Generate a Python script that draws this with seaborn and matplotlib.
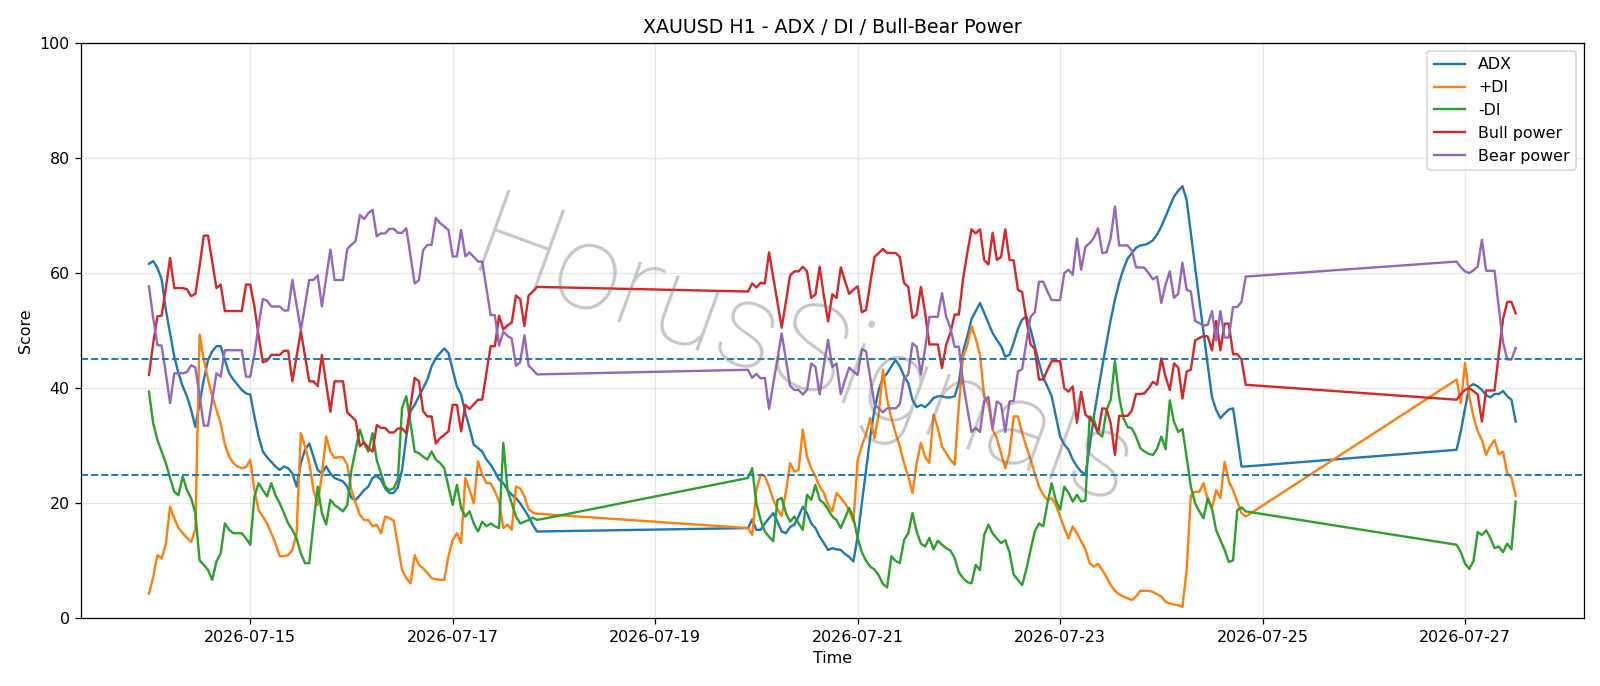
import matplotlib
matplotlib.use("Agg")
import matplotlib.dates as mdates
import matplotlib.pyplot as plt
import pandas as pd
import seaborn as sns

# hourly bars, three trading blocks (weekend gaps are bridged by the line)
SESSIONS = [("2026-07-14 00:00", "2026-07-17 20:00"),
            ("2026-07-19 22:00", "2026-07-24 20:00"),
            ("2026-07-26 22:00", "2026-07-27 12:00")]

adx = [
    # block 1
    61.6, 62.1, 60.9, 58.9, 53.6, 49.6, 45.5, 42.6, 40.3, 38.6,
    36.2, 33.3, 37.4, 41.5, 44.9, 46.4, 47.3, 47.3, 44.9, 42.6,
    41.5, 40.6, 39.7, 39.1, 38.9, 35.1, 31.6, 29.0, 28.0, 27.2,
    26.4, 25.8, 26.4, 26.1, 25.2, 22.9, 27.0, 29.3, 30.4, 28.1,
    25.8, 25.2, 26.4, 25.2, 24.4, 24.1, 23.8, 22.9, 20.9, 20.6,
    21.4, 22.3, 22.9, 24.4, 24.8, 24.1, 22.6, 21.8, 21.8, 22.8,
    25.8, 31.6, 36.0, 37.1, 38.6, 40.0, 41.5, 43.8, 45.2, 46.1,
    46.9, 46.1, 43.2, 40.3, 38.9, 35.7, 33.1, 30.2, 29.6, 29.0,
    27.6, 26.7, 25.5, 24.1, 23.5, 22.3, 21.5, 20.9, 20.0, 18.9,
    17.7, 16.2, 15.1,
    # block 2
    15.7, 17.2, 15.4, 15.4, 16.5, 17.4, 18.3, 16.8, 15.1, 14.8,
    15.9, 16.3, 17.7, 19.4, 18.3, 16.5, 15.7, 14.2, 13.1, 11.9,
    12.2, 12.0, 11.9, 11.2, 10.7, 9.9, 14.2, 20.0, 25.8, 31.6,
    36.3, 39.7, 41.8, 42.6, 43.8, 44.9, 43.8, 42.1, 40.9, 38.0,
    36.7, 37.1, 36.7, 37.4, 38.3, 38.6, 38.6, 38.4, 38.4, 38.6,
    40.9, 46.4, 49.0, 52.0, 53.4, 54.8, 53.1, 51.3, 49.6, 48.4,
    47.3, 45.5, 45.8, 47.9, 50.3, 51.9, 52.5, 50.2, 47.3, 44.4,
    41.8, 40.3, 38.6, 35.1, 31.6, 30.2, 29.3, 27.6, 26.4, 25.5,
    25.0, 29.8, 35.1, 39.4, 43.8, 47.8, 51.9, 55.4, 58.3, 60.7,
    62.5, 63.5, 64.4, 64.8, 64.9, 65.2, 65.7, 66.7, 68.1, 69.8,
    71.6, 73.3, 74.3, 75.1, 72.7, 66.9, 61.1, 55.3, 49.8, 44.0,
    38.5, 36.2, 34.8, 35.6, 36.3, 36.5, 31.6, 26.4, 26.4,
    # block 3
    29.3, 32.5, 36.5, 40.3, 40.7, 40.3, 39.7, 38.8, 38.4, 39.0,
    39.0, 39.5, 38.6, 38.0, 34.2,
]

plus_di = [
    # block 1
    4.3, 7.2, 11.0, 10.4, 13.0, 19.4, 17.4, 15.7, 14.8, 14.0,
    13.3, 15.5, 49.3, 45.0, 41.5, 38.6, 36.2, 33.9, 30.2, 28.1,
    27.0, 26.4, 26.1, 26.3, 27.5, 22.3, 18.8, 17.7, 16.5, 14.8,
    13.0, 10.8, 10.8, 11.0, 11.9, 14.8, 32.2, 29.9, 27.0, 22.3,
    19.7, 25.0, 31.6, 29.0, 27.9, 28.0, 28.0, 26.7, 22.3, 20.0,
    18.0, 17.1, 17.1, 16.0, 16.3, 14.8, 17.7, 17.4, 17.0, 12.8,
    8.4, 7.0, 6.1, 11.0, 9.3, 8.7, 7.9, 7.0, 6.8, 6.7,
    6.7, 10.8, 13.6, 14.8, 13.1, 24.4, 22.3, 20.0, 27.3, 25.0,
    23.5, 23.5, 22.1, 20.3, 15.7, 16.3, 15.4, 22.9, 22.6, 21.2,
    19.0, 18.4, 18.2,
    # block 2
    15.7, 14.5, 22.3, 25.0, 24.7, 22.9, 20.6, 19.0, 17.8, 22.0,
    27.0, 25.5, 25.8, 32.8, 28.1, 26.1, 24.7, 22.9, 21.8, 19.7,
    18.6, 21.8, 20.9, 20.0, 18.8, 16.8, 27.5, 30.0, 32.0, 34.8,
    31.3, 35.5, 43.2, 38.0, 34.8, 32.2, 29.9, 27.0, 24.7, 21.8,
    27.0, 30.5, 28.1, 27.0, 35.4, 33.1, 29.9, 28.7, 27.6, 26.7,
    37.0, 45.5, 47.5, 50.8, 48.6, 45.8, 38.6, 37.1, 32.8, 31.3,
    28.7, 26.1, 28.7, 35.1, 35.1, 32.2, 29.9, 27.6, 25.2, 22.9,
    21.5, 20.6, 20.9, 19.7, 17.7, 15.7, 13.9, 16.0, 14.8, 13.4,
    12.0, 9.6, 9.0, 9.5, 8.4, 7.2, 5.8, 4.8, 4.2, 3.8,
    3.5, 3.2, 3.8, 4.8, 4.8, 4.8, 4.6, 4.2, 3.8, 2.9,
    2.6, 2.4, 2.3, 2.0, 8.4, 21.4, 22.0, 22.0, 23.5, 20.6,
    19.1, 22.3, 20.9, 27.2, 23.8, 22.3, 20.3, 18.3, 17.7,
    # block 3
    41.5, 37.4, 44.4, 38.5, 35.0, 32.5, 31.0, 28.4, 30.0, 31.0,
    28.5, 29.0, 25.2, 24.5, 21.3,
]

minus_di = [
    # block 1
    39.4, 33.9, 31.0, 29.0, 27.0, 24.4, 22.0, 21.4, 24.7, 22.3,
    20.9, 18.3, 10.1, 9.3, 8.4, 6.7, 9.9, 11.3, 16.5, 15.4,
    14.8, 14.8, 14.8, 13.9, 12.8, 21.2, 23.5, 22.3, 21.2, 23.5,
    21.4, 20.0, 18.3, 16.5, 15.4, 13.9, 11.3, 9.6, 9.6, 16.5,
    22.9, 18.3, 16.3, 20.6, 19.7, 19.2, 18.6, 19.7, 25.8, 29.3,
    32.8, 30.4, 29.0, 32.2, 27.5, 25.2, 22.9, 22.3, 22.6, 24.1,
    36.6, 38.6, 33.9, 29.0, 28.7, 28.1, 27.6, 29.0, 27.6, 27.0,
    26.1, 22.9, 19.7, 23.2, 19.2, 17.7, 18.6, 16.5, 15.1, 16.8,
    16.0, 16.5, 16.0, 15.7, 30.5, 22.3, 20.0, 17.7, 16.5, 16.8,
    17.1, 17.5, 17.1,
    # block 2
    24.4, 26.1, 20.0, 17.1, 15.1, 14.2, 13.4, 20.6, 20.9, 18.3,
    16.8, 17.7, 16.5, 15.4, 21.5, 20.6, 23.2, 20.6, 20.0, 18.9,
    17.7, 17.1, 15.7, 17.4, 19.2, 17.5, 14.0, 11.5, 10.0, 9.0,
    8.5, 7.5, 6.0, 5.4, 10.8, 10.0, 9.6, 13.6, 14.8, 18.3,
    15.1, 13.0, 12.5, 14.0, 12.0, 13.5, 12.8, 12.2, 11.8, 10.5,
    8.0, 7.0, 6.3, 6.1, 9.3, 8.4, 14.5, 16.3, 14.8, 13.9,
    13.1, 13.6, 11.5, 7.6, 6.7, 5.8, 8.5, 11.9, 15.1, 16.5,
    16.0, 20.0, 23.5, 20.5, 18.9, 22.9, 21.8, 20.3, 21.5, 20.3,
    20.5, 35.1, 34.6, 32.2, 31.6, 36.2, 38.0, 44.7, 38.5, 34.8,
    33.3, 33.0, 31.6, 29.6, 29.0, 28.6, 28.4, 29.5, 31.6, 29.4,
    37.9, 34.2, 32.4, 32.9, 28.0, 22.9, 20.0, 18.6, 17.4, 20.9,
    19.1, 15.3, 13.6, 11.9, 9.8, 10.1, 18.8, 19.3, 18.6,
    # block 3
    12.8, 11.5, 9.5, 8.6, 10.0, 15.0, 14.5, 15.3, 14.0, 12.2,
    12.5, 11.5, 13.0, 12.0, 20.3,
]

bull_power = [
    # block 1
    42.3, 47.8, 52.5, 52.6, 57.4, 62.6, 57.4, 57.4, 57.4, 57.2,
    56.0, 56.4, 61.2, 66.5, 66.5, 61.9, 57.4, 58.0, 53.4, 53.4,
    53.4, 53.4, 53.4, 58.0, 58.0, 54.2, 49.0, 44.5, 44.8, 45.8,
    45.8, 45.8, 46.5, 46.5, 41.2, 45.5, 49.9, 45.5, 41.2, 41.2,
    40.4, 45.8, 40.9, 35.9, 41.2, 41.2, 41.2, 35.8, 35.1, 34.4,
    29.9, 30.6, 29.6, 29.0, 33.6, 33.1, 33.1, 32.3, 32.3, 33.0,
    33.0, 32.2, 37.0, 41.8, 41.2, 36.0, 35.1, 35.1, 30.4, 31.3,
    31.9, 32.5, 37.1, 37.1, 32.5, 37.1, 36.4, 37.2, 38.0, 38.0,
    42.6, 47.3, 47.3, 52.6, 50.2, 50.9, 51.4, 56.1, 55.5, 50.8,
    56.1, 56.8, 57.6,
    # block 2
    56.8, 58.2, 57.5, 58.3, 58.2, 63.6, 59.2, 54.8, 50.5, 55.1,
    59.6, 60.3, 60.3, 61.1, 60.3, 55.7, 56.3, 61.1, 56.0, 51.6,
    56.3, 55.7, 61.0, 58.6, 56.4, 57.1, 57.7, 53.2, 53.6, 58.3,
    62.8, 63.5, 64.2, 63.5, 63.5, 63.5, 62.8, 58.3, 57.6, 52.2,
    52.8, 57.6, 53.1, 47.6, 47.6, 47.6, 43.5, 47.6, 49.6, 52.8,
    52.8, 59.0, 63.5, 67.6, 66.9, 67.6, 62.3, 61.5, 67.0, 62.3,
    62.8, 67.6, 62.3, 62.2, 57.1, 56.7, 51.9, 47.6, 46.8, 41.5,
    41.5, 43.2, 44.7, 44.7, 44.7, 40.0, 39.4, 40.3, 34.0, 39.4,
    35.4, 34.8, 33.9, 32.2, 36.5, 36.4, 33.9, 28.4, 35.2, 35.2,
    35.2, 36.1, 39.0, 39.0, 39.1, 40.0, 41.1, 40.6, 45.2, 42.0,
    39.7, 44.3, 43.6, 38.2, 42.9, 43.2, 48.3, 48.7, 49.1, 49.0,
    46.6, 51.7, 46.6, 51.2, 51.2, 45.9, 45.9, 45.0, 40.6,
    # block 3
    38.0, 39.0, 39.7, 40.0, 39.5, 38.9, 34.2, 39.6, 39.6, 39.6,
    46.0, 52.0, 55.0, 55.0, 53.0,
]

bear_power = [
    # block 1
    57.7, 52.2, 47.5, 47.4, 42.6, 37.4, 42.6, 42.6, 42.6, 42.8,
    44.0, 43.6, 38.8, 33.5, 33.5, 38.1, 42.6, 42.0, 46.6, 46.6,
    46.6, 46.6, 46.6, 42.0, 42.0, 45.8, 51.0, 55.5, 55.2, 54.2,
    54.2, 54.2, 53.5, 53.5, 58.8, 54.5, 50.1, 54.5, 58.8, 58.8,
    59.6, 54.2, 59.1, 64.1, 58.8, 58.8, 58.8, 64.2, 64.9, 65.6,
    70.1, 69.4, 70.4, 71.0, 66.4, 66.9, 66.9, 67.7, 67.7, 67.0,
    67.0, 67.8, 63.0, 58.2, 58.8, 64.0, 64.9, 64.9, 69.6, 68.7,
    68.1, 67.5, 62.9, 62.9, 67.5, 62.9, 63.6, 62.8, 62.0, 62.0,
    57.4, 52.7, 52.7, 47.4, 49.8, 49.1, 48.6, 43.9, 44.5, 49.2,
    43.9, 43.2, 42.4,
    # block 2
    43.2, 41.8, 42.5, 41.7, 41.8, 36.4, 40.8, 45.2, 49.5, 44.9,
    40.4, 39.7, 39.7, 38.9, 39.7, 44.3, 43.7, 38.9, 44.0, 48.4,
    43.7, 44.3, 39.0, 41.4, 43.6, 42.9, 42.3, 46.8, 46.4, 41.7,
    37.2, 36.5, 35.8, 36.5, 36.5, 36.5, 37.2, 41.7, 42.4, 47.8,
    47.2, 42.4, 46.9, 52.4, 52.4, 52.4, 56.5, 52.4, 50.4, 47.2,
    47.2, 41.0, 36.5, 32.4, 33.1, 32.4, 37.7, 38.5, 33.0, 37.7,
    37.2, 32.4, 37.7, 37.8, 42.9, 43.3, 48.1, 52.4, 53.2, 58.5,
    58.5, 56.8, 55.3, 55.3, 55.3, 60.0, 60.6, 59.7, 66.0, 60.6,
    64.6, 65.2, 66.1, 67.8, 63.5, 63.6, 66.1, 71.6, 64.8, 64.8,
    64.8, 63.9, 61.0, 61.0, 60.9, 60.0, 58.9, 59.4, 54.8, 58.0,
    60.3, 55.7, 56.4, 61.8, 57.1, 56.8, 51.7, 51.3, 50.9, 51.0,
    53.4, 48.3, 53.4, 48.8, 48.8, 54.1, 54.1, 55.0, 59.4,
    # block 3
    62.0, 61.0, 60.3, 60.0, 60.5, 61.1, 65.8, 60.4, 60.4, 60.4,
    54.0, 48.0, 45.0, 45.0, 47.0,
]

SERIES = ["ADX", "+DI", "-DI", "Bull power", "Bear power"]
COLORS = ["tab:blue", "tab:orange", "tab:green", "tab:red", "tab:purple"]
LEVELS = [25, 45]

times = [t for start, end in SESSIONS for t in pd.date_range(start, end, freq="h")]
wide = pd.DataFrame({"time": times, "ADX": adx, "+DI": plus_di, "-DI": minus_di,
                     "Bull power": bull_power, "Bear power": bear_power})
df = wide.melt(id_vars="time", var_name="series", value_name="value")

DPI = 1600 / 14
fig, ax = plt.subplots(figsize=(14, 686 / DPI), dpi=DPI)
fig.subplots_adjust(left=0.0504, right=0.99, bottom=0.0985, top=0.9375)

sns.lineplot(data=df, x="time", y="value", hue="series", hue_order=SERIES,
             palette=dict(zip(SERIES, COLORS)), linewidth=1.5, ax=ax)

for level in LEVELS:
    ax.axhline(level, color="tab:blue", linestyle="--", linewidth=1.2)

# watermark
ax.text(0.48, 0.45, "HorusSignals", transform=ax.transAxes, rotation=-20,
        fontsize=76, color="0.45", alpha=0.4, fontweight="light",
        family=["Roboto", "DejaVu Sans"], ha="center", va="center")

ax.set_ylim(0, 100)
ax.set_title("XAUUSD H1 - ADX / DI / Bull-Bear Power")
ax.set_xlabel("Time")
ax.set_ylabel("Score")
ax.xaxis.set_major_locator(mdates.DayLocator(bymonthday=[15, 17, 19, 21, 23, 25, 27]))
ax.xaxis.set_major_formatter(mdates.DateFormatter("%Y-%m-%d"))
ax.grid(True, alpha=0.3)
sns.move_legend(ax, "upper right", title=None)

fig.savefig("out.png", dpi=DPI)
